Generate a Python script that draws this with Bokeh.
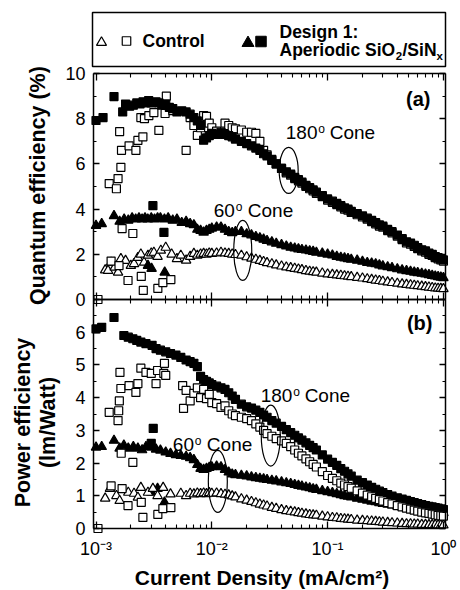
import math
from bokeh.plotting import figure
from bokeh.models import Range1d, LogAxis, LinearAxis, FixedTicker, LinearScale
from bokeh.embed import file_html
from bokeh.resources import INLINE
from bokeh.core.properties import value

FONT = "Liberation Sans"

# ---------------- data ----------------
current_dense = [0.006, 0.0065, 0.007, 0.0075, 0.008, 0.0085, 0.009, 0.0095,
                 0.010, 0.011, 0.012, 0.013, 0.014, 0.015, 0.016,
                 0.018, 0.020, 0.022, 0.024, 0.026, 0.028, 0.030,
                 0.033, 0.036,
                 0.040, 0.044, 0.048, 0.052, 0.056, 0.060,
                 0.065, 0.070, 0.075, 0.080,
                 0.090, 0.100,
                 0.11, 0.12, 0.13, 0.14, 0.15, 0.16,
                 0.18, 0.20, 0.22, 0.24, 0.26, 0.28, 0.30,
                 0.33, 0.36,
                 0.40, 0.44, 0.48, 0.52, 0.56, 0.60,
                 0.65, 0.70, 0.75, 0.80, 0.85, 0.90, 0.95, 1.0]

# (a) Quantum efficiency (%)
qe_design180_x_low = [0.0010, 0.00115, 0.00143, 0.00170, 0.00180, 0.00195, 0.00210, 0.00225, 0.00240, 0.00255,
                      0.00270, 0.00285, 0.00300, 0.00310, 0.00330, 0.00350, 0.00370, 0.00386, 0.00400, 0.00430,
                      0.00460, 0.00500, 0.00550]
qe_design180_low = [7.92, 8.05, 8.98, 8.3, 8.65, 8.55, 8.6, 8.7, 8.65, 8.75,
                    8.7, 8.8, 8.7, 4.15, 8.75, 8.7, 8.6, 2.97, 8.65, 8.5,
                    8.45, 8.3, 8.35]
qe_design180_dense = [8.3, 8.2, 8.05, 7.9, 7.7, 7.05, 7.15, 7.25,
                      7.35, 7.3, 7.4, 7.3, 7.25, 7.2, 7.1,
                      7.0, 6.9, 6.8, 6.7, 6.6, 6.45, 6.35,
                      6.15, 6.0,
                      5.8, 5.65, 5.55, 5.4, 5.3, 5.2,
                      5.05, 4.95, 4.85, 4.75,
                      4.6, 4.45,
                      4.35, 4.25, 4.15, 4.05, 4.0, 3.9,
                      3.8, 3.7, 3.6, 3.5, 3.4, 3.3, 3.25,
                      3.1, 3.0,
                      2.85, 2.7, 2.55, 2.5, 2.4, 2.3,
                      2.2, 2.15, 2.05, 2.0, 1.9, 1.85, 1.8, 1.75]

qe_control180_x_low = [0.00104, 0.00130, 0.00135, 0.00150, 0.00155, 0.00158, 0.00160, 0.00164, 0.00166, 0.00168,
                       0.00189, 0.00193, 0.00208, 0.00221, 0.00230, 0.00244, 0.00246, 0.00254, 0.00256, 0.00262,
                       0.00286, 0.00316, 0.00342, 0.00349, 0.00378, 0.00395, 0.00405, 0.00443, 0.00461]
qe_control180_low = [0.0, 5.13, 1.7, 4.9, 5.35, 1.5, 7.43, 5.85, 6.6, 3.14,
                     0.84, 6.8, 2.92, 6.6, 7.04, 8.05, 1.02, 7.2, 0.4, 8.0,
                     8.14, 8.27, 0.49, 7.48, 0.75, 8.23, 9.0, 0.88, 8.36]
qe_control180_dense = [6.6, 8.05, 7.7, 7.26, 7.6, 8.14, 8.1, 7.8,
                       7.6, 7.45, 7.34, 7.8, 7.7, 7.6, 7.55,
                       7.5, 7.4, 7.4, 7.35, 7.0, 6.6, 6.4,
                       6.2, 6.0,
                       5.8, 5.6, 5.5, 5.35, 5.25, 5.15,
                       5.0, 4.9, 4.8, 4.7,
                       4.55, 4.4,
                       4.3, 4.2, 4.1, 4.0, 3.95, 3.85,
                       3.75, 3.65, 3.55, 3.45, 3.35, 3.25, 3.2,
                       3.05, 2.95,
                       2.8, 2.65, 2.5, 2.45, 2.35, 2.25,
                       2.15, 2.1, 2.0, 1.95, 1.85, 1.8, 1.75, 1.7]

qe_design60_x_low = [0.0010, 0.00112, 0.00143, 0.00160, 0.00175, 0.00190, 0.00205, 0.00220, 0.00235, 0.00250,
                     0.00265, 0.00280, 0.00281, 0.00300, 0.00302, 0.00320, 0.00340, 0.00360, 0.00390, 0.00392,
                     0.00420, 0.00460, 0.00500, 0.00550]
qe_design60_low = [3.27, 3.35, 3.7, 3.45, 3.55, 3.5, 3.6, 3.55, 3.6, 3.55,
                   3.6, 3.55, 1.5, 3.6, 1.37, 3.55, 3.6, 3.6, 3.55, 1.2,
                   3.6, 3.5, 3.55, 3.4]
qe_design60_dense = [3.45, 3.35, 3.3, 3.1, 3.05, 2.97, 3.05, 3.1,
                     3.15, 3.2, 3.2, 3.1, 3.0, 2.95, 3.0,
                     3.0, 2.9, 2.85, 2.78, 2.72, 2.66, 2.6,
                     2.54, 2.48,
                     2.42, 2.36, 2.3, 2.27, 2.23, 2.2,
                     2.18, 2.15, 2.12, 2.08,
                     2.04, 2.0,
                     1.96, 1.9, 1.86, 1.83, 1.8, 1.77,
                     1.73, 1.68, 1.63, 1.6, 1.57, 1.52, 1.48,
                     1.44, 1.4,
                     1.35, 1.3, 1.27, 1.24, 1.2, 1.18,
                     1.15, 1.12, 1.09, 1.06, 1.03, 1.0, 0.98, 0.96]

qe_control60_x_low = [0.00120, 0.00127, 0.00135, 0.00145, 0.00155, 0.00164, 0.00180, 0.00200, 0.00213, 0.00230,
                      0.00244, 0.00260, 0.00281, 0.00300, 0.00316, 0.00340, 0.00363, 0.00400, 0.00450, 0.00500,
                      0.00540]
qe_control60_low = [1.3, 1.28, 1.64, 1.42, 1.2, 1.8, 1.72, 1.5, 1.58, 1.85,
                    2.0, 1.64, 1.95, 2.05, 2.08, 1.9, 2.17, 2.3, 2.0, 1.8,
                    1.95]
qe_control60_dense = [1.73, 1.9, 2.03, 1.95, 2.0, 2.03, 2.0, 2.05,
                      2.03, 2.05, 2.08, 2.05, 2.03, 2.0, 1.98,
                      1.95, 1.88, 1.82, 1.77, 1.72, 1.67, 1.62,
                      1.57, 1.52,
                      1.47, 1.43, 1.4, 1.37, 1.34, 1.31,
                      1.27, 1.24, 1.22, 1.2,
                      1.16, 1.12,
                      1.1, 1.08, 1.06, 1.04, 1.02, 1.0,
                      0.97, 0.94, 0.91, 0.88, 0.85, 0.83, 0.8,
                      0.77, 0.74,
                      0.71, 0.68, 0.66, 0.64, 0.62, 0.6,
                      0.58, 0.56, 0.54, 0.52, 0.5, 0.49, 0.48, 0.47]

# (b) Power efficiency (lm/Watt)
pe_design180_x_low = [0.0010, 0.00112, 0.00143, 0.00174, 0.00190, 0.00208, 0.00225, 0.00244, 0.00270, 0.00300,
                      0.00305, 0.00312, 0.00330, 0.00360, 0.00400, 0.00440, 0.00490, 0.00540]
pe_design180_low = [6.1, 6.15, 6.45, 5.9, 5.85, 5.8, 5.75, 5.7, 5.65, 2.6,
                    5.6, 3.06, 5.5, 5.45, 5.4, 5.35, 5.3, 5.23]
pe_design180_dense = [5.15, 5.1, 5.05, 4.95, 4.65, 4.55, 4.5, 4.45,
                      4.4, 4.35, 4.3, 4.25, 4.15, 4.05, 3.95,
                      3.8, 3.72, 3.68, 3.62, 3.55, 3.47, 3.4,
                      3.3, 3.22,
                      3.12, 3.02, 2.93, 2.85, 2.77, 2.7,
                      2.62, 2.54, 2.47, 2.4,
                      2.25, 2.12,
                      2.02, 1.93, 1.83, 1.75, 1.67, 1.6,
                      1.48, 1.4, 1.33, 1.26, 1.2, 1.14, 1.1,
                      1.04, 0.99,
                      0.94, 0.9, 0.86, 0.82, 0.79, 0.76,
                      0.73, 0.7, 0.68, 0.66, 0.64, 0.62, 0.6, 0.58]

pe_control180_x_low = [0.00104, 0.00130, 0.00135, 0.00155, 0.00157, 0.00159, 0.00161, 0.00164, 0.00165, 0.00168,
                       0.00189, 0.00193, 0.00208, 0.00221, 0.00230, 0.00244, 0.00246, 0.00254, 0.00270, 0.00300,
                       0.00330, 0.00340, 0.00342, 0.00378, 0.00385, 0.00390, 0.00400, 0.00443, 0.00560, 0.00570]
pe_control180_low = [0.0, 3.55, 1.3, 3.3, 3.6, 3.9, 4.77, 4.28, 2.3, 1.22,
                     0.7, 4.37, 2.02, 4.16, 4.43, 4.9, 0.8, 0.34, 4.77, 4.74,
                     4.43, 4.83, 0.43, 0.61, 4.74, 5.05, 4.68, 0.64, 4.37, 3.67]
pe_control180_dense = [4.22, 3.9, 4.13, 4.3, 4.0, 4.25, 3.97, 4.1,
                       3.85, 3.82, 3.7, 3.75, 3.6, 3.5, 3.45,
                       3.4, 3.36, 3.3, 3.2, 3.1, 3.0, 2.9,
                       2.82, 2.75,
                       2.68, 2.6, 2.5, 2.4, 2.3, 2.22,
                       2.13, 2.04, 1.96, 1.88,
                       1.74, 1.62,
                       1.53, 1.46, 1.39, 1.33, 1.28, 1.23,
                       1.15, 1.08, 1.02, 0.97, 0.92, 0.88, 0.84,
                       0.79, 0.75,
                       0.7, 0.66, 0.62, 0.59, 0.56, 0.53,
                       0.5, 0.48, 0.46, 0.44, 0.42, 0.4, 0.39, 0.38]

pe_design60_x_low = [0.0010, 0.00112, 0.00143, 0.00160, 0.00174, 0.00190, 0.00210, 0.00230, 0.00250, 0.00270,
                     0.00300, 0.00301, 0.00330, 0.00340, 0.00360, 0.00390, 0.00400, 0.00440, 0.00490, 0.00540]
pe_design60_low = [2.48, 2.5, 2.69, 2.45, 2.54, 2.45, 2.5, 2.45, 2.4, 2.5,
                   2.48, 1.1, 2.42, 1.22, 2.39, 0.8, 2.33, 2.29, 2.25, 2.23]
pe_design60_dense = [2.2, 2.16, 2.1, 1.95, 1.83, 1.8, 1.83, 1.86,
                     1.88, 1.9, 1.88, 1.8, 1.72, 1.66, 1.64,
                     1.62, 1.6, 1.57, 1.55, 1.53, 1.51, 1.49,
                     1.47, 1.45,
                     1.42, 1.39, 1.37, 1.34, 1.31, 1.29,
                     1.26, 1.24, 1.21, 1.19,
                     1.15, 1.12,
                     1.09, 1.06, 1.03, 1.0, 0.98, 0.96,
                     0.92, 0.89, 0.86, 0.83, 0.81, 0.78, 0.76,
                     0.74, 0.71,
                     0.68, 0.66, 0.64, 0.62, 0.6, 0.59,
                     0.57, 0.55, 0.54, 0.52, 0.51, 0.5, 0.49, 0.48]

pe_control60_x_low = [0.00120, 0.00132, 0.00150, 0.00160, 0.00190, 0.00213, 0.00230, 0.00244, 0.00281, 0.00310,
                      0.00340, 0.00380, 0.00440, 0.00540]
pe_control60_low = [0.92, 1.22, 1.0, 0.85, 1.1, 1.07, 0.95, 1.25, 1.1, 1.22,
                    1.0, 1.25, 1.05, 1.07]
pe_control60_dense = [1.0, 1.07, 1.05, 1.08, 1.06, 1.08, 1.06, 1.09,
                      1.07, 1.08, 1.06, 1.04, 1.02, 0.99, 0.96,
                      0.9, 0.86, 0.82, 0.78, 0.74, 0.71, 0.68,
                      0.64, 0.61,
                      0.57, 0.54, 0.52, 0.5, 0.48, 0.46,
                      0.44, 0.42, 0.41, 0.4,
                      0.37, 0.35,
                      0.33, 0.32, 0.3, 0.29, 0.28, 0.27,
                      0.25, 0.24, 0.23, 0.22, 0.21, 0.2, 0.19,
                      0.18, 0.17,
                      0.16, 0.15, 0.14, 0.14, 0.13, 0.13,
                      0.12, 0.12, 0.11, 0.11, 0.11, 0.1, 0.1, 0.1]

x_decades = [0.001, 0.01, 0.1, 1.0]
x_tick_labels = ["10\u207b\u00b3", "10\u207b\u00b2", "10\u207b\u00b9", "10\u2070"]
x_minor = [m * 10.0 ** e for e in (-3, -2, -1) for m in range(2, 10)]
qe_ticks = [0, 2, 4, 6, 8, 10]
qe_minor = [1, 3, 5, 7, 9]
pe_ticks = [0, 1, 2, 3, 4, 5, 6]
pe_minor = [0.5, 1.5, 2.5, 3.5, 4.5, 5.5, 6.5]

# ---------------- figure ----------------
X_LO, X_HI = 0.0009515, 1.0426        # panel edges along x

p = figure(width=460, height=590, x_axis_type="log",
           x_range=Range1d(0.0001497, 1.4048), y_range=Range1d(-1.8952, 16.140),
           x_axis_location=None, y_axis_location=None,
           output_backend="svg", toolbar_location=None,
           min_border_left=0, min_border_right=0, min_border_top=0, min_border_bottom=0)
p.extra_y_ranges = {"a": Range1d(-12.8761, 13.2301), "ly": Range1d(-524, 66)}
p.extra_x_ranges = {"lx": Range1d(-92, 368)}
p.extra_x_scales = {"lx": LinearScale()}
p.extra_y_scales = {"a": LinearScale(), "ly": LinearScale()}
p.outline_line_color = None
p.grid.visible = False
p.background_fill_color = "white"
p.border_fill_color = "white"


def style_axis(ax, tick_in=6, minor_in=3):
    ax.axis_line_color = "black"
    ax.axis_line_width = 1.5
    ax.major_tick_line_color = "black"
    ax.minor_tick_line_color = "black"
    ax.major_tick_line_width = 1.3
    ax.minor_tick_line_width = 1.1
    ax.major_tick_in = tick_in
    ax.major_tick_out = 0
    ax.minor_tick_in = minor_in
    ax.minor_tick_out = 0
    ax.major_label_text_color = None
    ax.major_label_standoff = 0


qe_yt = FixedTicker(ticks=qe_ticks, minor_ticks=qe_minor)
pe_yt = FixedTicker(ticks=pe_ticks, minor_ticks=pe_minor)
xt = FixedTicker(ticks=x_decades, minor_ticks=x_minor)

# frame lines and ticks of both panels
for rng, tk, bnd, loc, side in [("a", qe_yt, (0, 10), X_LO, "left"),
                                ("a", qe_yt, (0, 10), X_HI, "right"),
                                ("default", pe_yt, (0, 7), X_LO, "left"),
                                ("default", pe_yt, (0, 7), X_HI, "right")]:
    ax = LinearAxis(ticker=tk, y_range_name=rng, bounds=bnd, fixed_location=loc)
    style_axis(ax)
    p.add_layout(ax, side)

for rng, loc, side in [("a", 10, "above"), ("a", 0, "below"),
                       ("default", 7, "above"), ("default", 0, "below")]:
    ax = LogAxis(ticker=xt, y_range_name=rng, bounds=(X_LO, X_HI), fixed_location=loc)
    style_axis(ax, 7, 4)
    p.add_layout(ax, side)

# tick labels and axis titles (all vertically centred)
TK = dict(text_font=value(FONT), text_font_size="18px", text_color="black", text_baseline="middle")
p.text(x=[X_LO] * len(qe_ticks), y=qe_ticks, text=[str(t) for t in qe_ticks], y_range_name="a",
       text_align="right", x_offset=-8, **TK)
p.text(x=[X_LO] * len(pe_ticks), y=pe_ticks, text=[str(t) for t in pe_ticks],
       text_align="right", x_offset=-8, **TK)
p.text(x=x_decades, y=[0] * len(x_decades), text=x_tick_labels,
       text_align="center", y_offset=20.5, **TK)

TT = dict(text_font=value(FONT), text_font_style="bold", text_color="black", text_line_height=1.05,
          text_baseline="middle", text_align="center")
p.text(x=[X_LO], y=[5.04], text=["Quantum efficiency (%)"], x_offset=-56, y_range_name="a",
       angle=math.pi / 2, text_font_size="21.5px", **TT)
p.text(x=[X_LO], y=[3.24], text=["Power efficiency\n(lm/Watt)"], x_offset=-58,
       angle=math.pi / 2, text_font_size="21.5px", **TT)
p.text(x=[0.0271], y=[0], text=["Current Density (mA/cm\u00b2)"], y_offset=49,
       text_font_size="21px", **TT)


def draw(xs, ys, marker, filled, size, rng="default"):
    p.scatter(xs, ys, marker=marker, size=size, y_range_name=rng,
              fill_color="black" if filled else "white",
              line_color="black", line_width=1.2)


def cone(x, y, number, sup_dx, cone_dx, rng="default"):
    kw = dict(text_font=value(FONT), text_color="black", text_baseline="middle",
              text_align="left", y_range_name=rng)
    p.text(x=[x], y=[y], text=[number], text_font_size="19px", **kw)
    p.text(x=[x], y=[y], text=["o"], text_font_size="12px", x_offset=sup_dx, y_offset=-3.5, **kw)
    p.text(x=[x], y=[y], text=["Cone"], text_font_size="19px", x_offset=cone_dx, **kw)


def ring(x, y, w, h, rng="default"):
    p.ellipse(x=[x], y=[y], width=w, height=h, width_units="screen", height_units="screen",
              fill_color=None, line_color="black", line_width=1.2, y_range_name=rng)


# ---------------- panel (a) ----------------
draw(qe_control60_x_low + current_dense, qe_control60_low + qe_control60_dense, "triangle", False, 9.5, "a")
draw(qe_design60_x_low + current_dense, qe_design60_low + qe_design60_dense, "triangle", True, 9.5, "a")
draw(qe_control180_x_low + current_dense, qe_control180_low + qe_control180_dense, "square", False, 8, "a")
draw(qe_design180_x_low + current_dense, qe_design180_low + qe_design180_dense, "square", True, 8, "a")

cone(0.0435, 7.39, "180", 32.5, 44, "a")
cone(0.0104, 3.96, "60", 22, 34, "a")
ring(0.0461, 5.71, 19, 46, "a")
ring(0.0185, 2.17, 18, 60, "a")
p.text(x=[0.7738], y=[8.85], text=["(a)"], text_font=value(FONT), text_font_style="bold",
       text_font_size="20px", text_align="right", text_baseline="middle", text_color="black",
       y_range_name="a")

# ---------------- panel (b) ----------------
draw(pe_design60_x_low + current_dense, pe_design60_low + pe_design60_dense, "triangle", True, 9.5)
draw(pe_control60_x_low + current_dense, pe_control60_low + pe_control60_dense, "triangle", False, 9.5)
draw(pe_design180_x_low + current_dense, pe_design180_low + pe_design180_dense, "square", True, 8)
draw(pe_control180_x_low + current_dense, pe_control180_low + pe_control180_dense, "square", False, 8)

cone(0.0264, 4.07, "180", 32.5, 44)
cone(0.00461, 2.58, "60", 22, 34)
ring(0.0323, 2.84, 19, 61)
ring(0.01127, 1.44, 19, 62)
p.text(x=[0.805], y=[6.27], text=["(b)"], text_font=value(FONT), text_font_style="bold",
       text_font_size="20px", text_align="right", text_baseline="middle", text_color="black")

# ---------------- legend box (top) ----------------
L = dict(x_range_name="lx", y_range_name="ly")
p.quad(left=[0], right=[353], bottom=[0], top=[54], fill_color=None,
       line_color="black", line_width=1.5, **L)
p.scatter([9], [24], marker="triangle", size=10, fill_color="white", line_color="black", line_width=1.2, **L)
p.scatter([34], [25.5], marker="square", size=8.5, fill_color="white", line_color="black", line_width=1.2, **L)
p.scatter([155.5], [23.5], marker="triangle", size=12, fill_color="black", line_color="black", **L)
p.scatter([168.5], [25], marker="square", size=10.5, fill_color="black", line_color="black", **L)
lkw = dict(text_font=value(FONT), text_font_style="bold", text_color="black",
           text_align="left", text_baseline="middle", **L)
p.text(x=[50], y=[26], text=["Control"], text_font_size="17.5px", **lkw)
p.text(x=[187], y=[35], text=["Design 1:"], text_font_size="17.5px", **lkw)
p.text(x=[187], y=[17], text=["Aperiodic SiO"], text_font_size="17.5px", **lkw)
p.text(x=[187], y=[17], text=["2"], text_font_size="11.5px", x_offset=116.2, y_offset=6, **lkw)
p.text(x=[187], y=[17], text=["/SiN"], text_font_size="17.5px", x_offset=123, **lkw)
p.text(x=[187], y=[17], text=["x"], text_font_size="11.5px", x_offset=157, y_offset=6.5, **lkw)

open("out.html", "w").write(file_html(p, INLINE))
